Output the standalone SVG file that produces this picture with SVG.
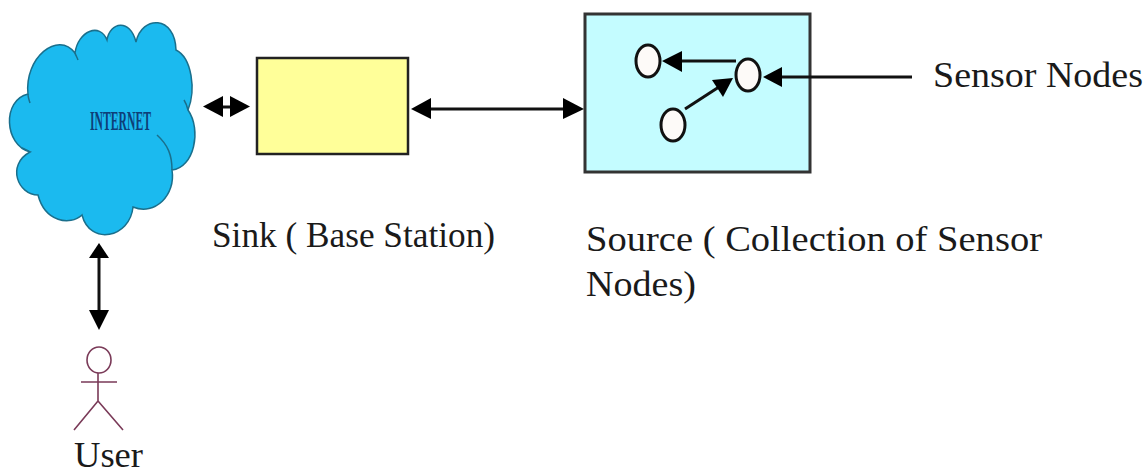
<svg xmlns="http://www.w3.org/2000/svg" width="1148" height="475" viewBox="0 0 1148 475">
<style>
text{font-family:"Liberation Serif","Times New Roman",serif;fill:#1a1a1a;font-size:36px}
.line{stroke:#111;stroke-width:3;fill:none}
.head{fill:#000;stroke:none}
.sn{fill:#fdfaf8;stroke:#111;stroke-width:3}
.p{fill:none;stroke:#7a3a58;stroke-width:1.6}
.c{fill:none;stroke:#1a6f8c;stroke-width:1.5}
</style>
<rect width="1148" height="475" fill="#fff"/>
<g id="internet">
<path d="M28,94 C24,58 58,30 75,53 C78,31 100,22 107,40 C110,22 130,18 136,42 C142,15 175,15 176,50 C192,58 196,90 188,110 C202,130 194,168 172,170 C176,195 155,216 133,207 C130,238 90,246 82,215 C70,226 45,222 38,195 C18,195 6,165 30,152 C4,145 2,100 28,94 Z" fill="#1bbaef" stroke="#1a6f8c" stroke-width="1.5"/>
<path class="c" d="M172,170 C172,155 168,145 157,135 M188,110 C187,106 186,103 184,100 M30,152 C28,150 26,150 22,148 M28,94 C28,97 29,100 30,103 M75,53 C76,56 77,57 78,60"/>
<text x="90" y="130" textLength="61" lengthAdjust="spacingAndGlyphs" style="font-size:27px;fill:#0d3f78;font-weight:bold">INTERNET</text>
</g>
<g id="sink">
<rect x="257" y="58" width="151" height="96" fill="#ffff99" stroke="#222" stroke-width="2.5"/>
<text x="212" y="247" textLength="283" lengthAdjust="spacingAndGlyphs">Sink ( Base Station)</text>
</g>
<g id="source">
<rect x="585" y="14" width="225" height="158" fill="#c4fcff" stroke="#333" stroke-width="3"/>
<text x="586" y="251" textLength="456" lengthAdjust="spacingAndGlyphs">Source ( Collection of Sensor</text>
<text x="586" y="296" textLength="110" lengthAdjust="spacingAndGlyphs">Nodes)</text>
</g>
<g id="node-a"><ellipse cx="648" cy="61" rx="12" ry="16" class="sn"/></g>
<g id="node-b"><ellipse cx="748" cy="75" rx="12" ry="16" class="sn"/></g>
<g id="node-c"><ellipse cx="673" cy="125" rx="12" ry="16" class="sn"/></g>
<g id="user">
<ellipse cx="99" cy="360" rx="12" ry="13" class="p"/>
<path class="p" d="M98,373 V401 M81,382 H117 M98,401 L74,430 M98,401 L123,430"/>
<text x="74" y="467" textLength="69" lengthAdjust="spacingAndGlyphs">User</text>
</g>
<g id="sensor-label"><text x="933" y="87" textLength="210" lengthAdjust="spacingAndGlyphs">Sensor Nodes</text></g>
<g id="connectors">
<path class="line" d="M222,107 H232"/>
<polygon class="head" points="203,106.500 223,96 223,117"/>
<polygon class="head" points="250,106.500 230,96 230,117"/>
<path class="line" d="M430,109 H566"/>
<polygon class="head" points="411,109 431,98 431,119"/>
<polygon class="head" points="584,109 563,98 563,119"/>
<path class="line" d="M99,255 V312"/>
<polygon class="head" points="99,243 89,258 109,258"/>
<polygon class="head" points="99,330 89,310 109,310"/>
<path class="line" d="M736,61 H680"/>
<polygon class="head" points="662,61 682,51 682,72"/>
<path class="line" d="M685,109 L722,85"/>
<polygon class="head" points="733,78 723,97 712,80"/>
<path class="line" d="M912,77 H780"/>
<polygon class="head" points="763,77 782,67 782,87"/>
</g>
</svg>
